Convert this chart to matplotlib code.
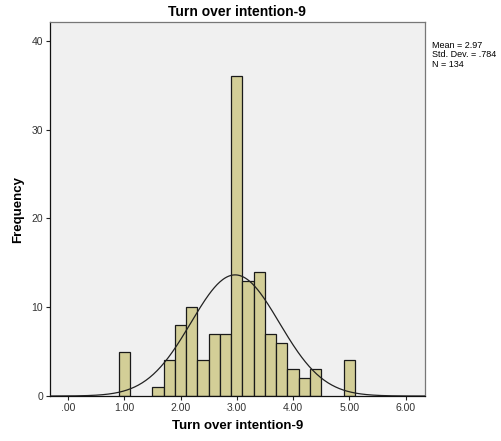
import numpy as np
import matplotlib.pyplot as plt

plt.rcParams['font.family'] = ['Liberation Sans', 'DejaVu Sans']

# histogram bins (centre of each bar) and counts, bin width 0.2
bin_centers = [1.0, 1.6, 1.8, 2.0, 2.2, 2.4, 2.6, 2.8, 3.0, 3.2, 3.4, 3.6, 3.8, 4.0, 4.2, 4.4, 5.0]
counts = [5, 1, 4, 8, 10, 4, 7, 7, 36, 13, 14, 7, 6, 3, 2, 3, 4]
bin_width = 0.2

mean = 2.97
sd = 0.784
n = 134

xticks = [0, 1, 2, 3, 4, 5, 6]
xticklabels = ['.00', '1.00', '2.00', '3.00', '4.00', '5.00', '6.00']
yticks = [0, 10, 20, 30, 40]

fig = plt.figure(figsize=(5.01, 4.41), dpi=100)
ax = fig.add_axes([0.0998, 0.102, 0.748, 0.848])
ax.set_facecolor('#f0f0f0')

ax.bar(bin_centers, counts, width=bin_width, color='#d3ce97', edgecolor='#1a1a1a',
       linewidth=0.9, zorder=2)

# normal curve scaled to counts
xs = np.linspace(-0.32, 6.34, 400)
ys = n * bin_width / (sd * np.sqrt(2 * np.pi)) * np.exp(-0.5 * ((xs - mean) / sd) ** 2)
ax.plot(xs, ys, color='#222222', linewidth=0.9, zorder=3)

ax.set_xlim(-0.32, 6.34)
ax.set_ylim(0, 42.1)
ax.set_xticks(xticks)
ax.set_xticklabels(xticklabels)
ax.set_yticks(yticks)
ax.tick_params(labelsize=7.5, length=3, width=0.8, colors='#222222', labelcolor='#333333', pad=2)

for s in ['left', 'bottom']:
    ax.spines[s].set_color('#111111')
    ax.spines[s].set_linewidth(0.9)
for s in ['top', 'right']:
    ax.spines[s].set_color('#777777')
    ax.spines[s].set_linewidth(0.9)

ax.set_title('Turn over intention-9', fontsize=10, fontweight='bold', pad=4)
ax.set_xlabel('Turn over intention-9', fontsize=9.5, fontweight='bold', labelpad=5)
ax.set_ylabel('Frequency', fontsize=9.5, fontweight='bold', labelpad=5)

fig.text(0.862, 0.907, 'Mean = 2.97\nStd. Dev. = .784\nN = 134', fontsize=6.5,
         va='top', ha='left', linespacing=1.05)

fig.savefig('out.png', dpi=100)
